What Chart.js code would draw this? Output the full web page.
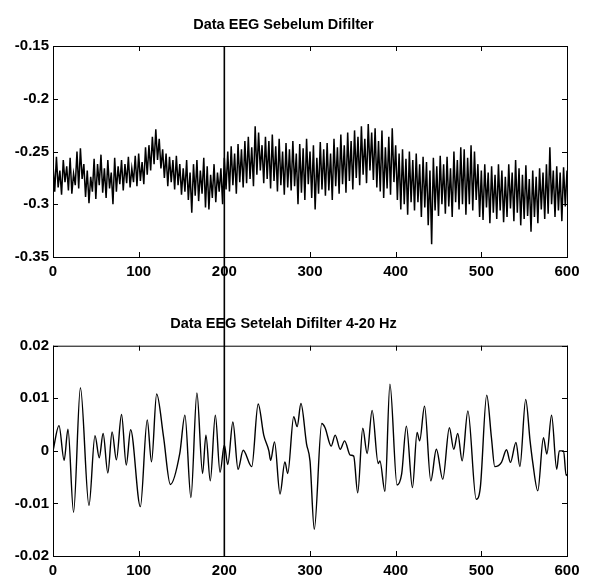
<!DOCTYPE html>
<html>
<head>
<meta charset="utf-8">
<script src="https://cdn.jsdelivr.net/npm/chart.js@4"></script>
<style>
  html, body { margin: 0; padding: 0; background: #fff; }
  #wrap { position: relative; width: 592px; height: 579px; }
  canvas { display: block; }
</style>
</head>
<body>
<div id="wrap">
  <canvas id="rawChart" width="592" height="290"></canvas>
  <canvas id="filteredChart" width="592" height="289"></canvas>
</div>
<script>
// titles
const rawTitle = 'Data EEG Sebelum Difilter';
const filteredTitle = 'Data EEG Setelah Difilter 4-20 Hz';

// tick labels
const xTicks = [0, 100, 200, 300, 400, 500, 600];
const rawYTicks = [-0.35, -0.3, -0.25, -0.2, -0.15];
const filteredYTicks = [-0.02, -0.01, 0, 0.01, 0.02];

// marker drawn across both plots
const markerSample = 200;

// raw EEG, one value every 2 samples (0..600)
const rawStep = 2;
const rawValues = [
  -0.262,-0.288,-0.255,-0.284,-0.268,-0.291,-0.258,-0.279,-0.264,-0.287,
  -0.256,-0.290,-0.271,-0.282,-0.250,-0.285,-0.247,-0.276,-0.262,-0.293,
  -0.268,-0.299,-0.274,-0.288,-0.257,-0.295,-0.262,-0.282,-0.253,-0.289,
  -0.266,-0.294,-0.258,-0.285,-0.270,-0.300,-0.256,-0.288,-0.264,-0.281,
  -0.258,-0.287,-0.262,-0.280,-0.255,-0.284,-0.266,-0.279,-0.254,-0.283,
  -0.252,-0.278,-0.260,-0.281,-0.246,-0.272,-0.244,-0.268,-0.236,-0.262,
  -0.229,-0.258,-0.238,-0.266,-0.248,-0.275,-0.252,-0.283,-0.255,-0.279,
  -0.258,-0.286,-0.254,-0.282,-0.262,-0.291,-0.266,-0.288,-0.258,-0.296,
  -0.270,-0.308,-0.262,-0.292,-0.258,-0.297,-0.268,-0.290,-0.256,-0.303,
  -0.264,-0.305,-0.272,-0.294,-0.262,-0.298,-0.270,-0.288,-0.266,-0.300,
  -0.256,-0.286,-0.250,-0.288,-0.245,-0.282,-0.252,-0.290,-0.243,-0.279,
  -0.248,-0.284,-0.240,-0.280,-0.236,-0.276,-0.246,-0.283,-0.226,-0.272,
  -0.232,-0.268,-0.244,-0.280,-0.236,-0.276,-0.240,-0.285,-0.234,-0.278,
  -0.245,-0.288,-0.238,-0.282,-0.250,-0.291,-0.242,-0.284,-0.248,-0.287,
  -0.240,-0.283,-0.252,-0.300,-0.243,-0.289,-0.247,-0.296,-0.238,-0.281,
  -0.250,-0.294,-0.244,-0.305,-0.256,-0.290,-0.241,-0.286,-0.248,-0.292,
  -0.242,-0.287,-0.252,-0.296,-0.238,-0.283,-0.246,-0.290,-0.234,-0.281,
  -0.244,-0.289,-0.232,-0.278,-0.240,-0.286,-0.230,-0.275,-0.236,-0.282,
  -0.226,-0.272,-0.238,-0.280,-0.224,-0.268,-0.232,-0.277,-0.228,-0.284,
  -0.240,-0.288,-0.230,-0.294,-0.246,-0.285,-0.236,-0.291,-0.228,-0.279,
  -0.244,-0.296,-0.252,-0.305,-0.248,-0.300,-0.257,-0.310,-0.250,-0.298,
  -0.258,-0.306,-0.252,-0.298,-0.262,-0.312,-0.255,-0.303,-0.260,-0.320,
  -0.268,-0.338,-0.256,-0.306,-0.264,-0.311,-0.254,-0.300,-0.262,-0.309,
  -0.255,-0.302,-0.266,-0.312,-0.250,-0.298,-0.258,-0.305,-0.246,-0.300,
  -0.248,-0.310,-0.256,-0.300,-0.244,-0.306,-0.250,-0.296,-0.262,-0.312,
  -0.268,-0.315,-0.262,-0.303,-0.270,-0.318,-0.264,-0.308,-0.272,-0.314,
  -0.262,-0.306,-0.268,-0.317,-0.274,-0.312,-0.262,-0.304,-0.270,-0.316,
  -0.258,-0.308,-0.266,-0.320,-0.272,-0.314,-0.263,-0.311,-0.276,-0.326,
  -0.268,-0.312,-0.274,-0.318,-0.266,-0.305,-0.270,-0.314,-0.262,-0.309,
  -0.246,-0.300,-0.268,-0.312,-0.264,-0.306,-0.270,-0.316,-0.265,-0.302,
  -0.268
];

// filtered EEG (4-20 Hz), turning points
const filteredSamples = [
  0, 7, 13, 17.5, 24, 32, 42, 49, 54, 58.5, 64, 69, 74, 80, 85.5, 90.6,
  102, 110, 115, 121, 129, 137, 148, 154, 161, 168, 174.6, 178.5, 183.6, 189.5, 195,
  200, 204, 210, 216, 222, 232, 239.5, 246, 252, 254, 258.6, 265, 270.7, 274,
  281, 285, 289.4, 296, 300, 305, 313.7, 317.6, 324.7, 329.4, 335.3, 340.4, 347, 351,
  355.7, 361.6, 366.7, 372.5, 379.6, 381.6, 387.5, 393.3, 401.6, 407, 412.5, 419.6,
  425, 428, 433.7, 441, 447.5, 455, 462.7, 467.8, 472.5, 477.6, 484.3, 494, 498.8,
  506.3, 511.8, 515.7, 523.5, 529.4, 534, 540.4, 545, 551.8, 556.9, 560, 565.9,
  572.5, 576.5, 582, 588, 591, 596, 599, 600
];
const filteredValues = [
  0.0, 0.0048, -0.0018, 0.0041, -0.0117, 0.012, -0.0104, 0.0029, -0.0013, 0.0033, -0.0042, 0.0036, -0.0017, 0.0069, -0.0027, 0.004,
  -0.0106, 0.0059, -0.0021, 0.0108, 0.0027, -0.0064, -0.0005, 0.0068, -0.0089, 0.011, -0.0043, 0.003, -0.0057, 0.0068, -0.0041,
  0.0011, -0.0026, 0.0055, -0.0035, 0.0001, -0.003, 0.0089, 0.003, 0.0, -0.0018, 0.0017, -0.0082, -0.0021, -0.0043,
  0.0065, 0.0046, 0.009, 0.0013, -0.0019, -0.0149, 0.0052, 0.0044, 0.0009, 0.003, 0.0003, 0.0019, -0.0008, -0.001,
  -0.008, 0.0043, -0.0005, 0.0077, -0.0024, -0.0019, -0.0077, 0.0127, -0.0065, -0.0044, 0.0047, -0.007,
  0.0035, 0.0019, 0.0085, -0.0057, 0.0003, -0.0054, 0.0044, 0.0003, 0.0033, -0.0019, 0.0076, -0.0092, -0.007,
  0.0106, 0.0025, -0.003, -0.0022, 0.0002, -0.0022, 0.0016, -0.003, 0.0098, 0.0019, -0.0022, -0.0076,
  0.0025, -0.0006, 0.0068, -0.0035, 0.0, 0.0, -0.0047, -0.0044
];

const fontFamily = "'Liberation Sans', Arial, sans-serif";
const fmt = v => String(+Number(v).toFixed(4));

// MATLAB-like box with inward ticks, plus the vertical marker
const framePlugin = {
    id: 'frame',
    afterDraw(chart, args, opts) {
        const { ctx, chartArea: a, scales: { x, y } } = chart;
        const len = 5;
        ctx.save();
        ctx.strokeStyle = '#000';
        ctx.lineWidth = 1;
        ctx.strokeRect(a.left + 0.5, a.top + 0.5, a.right - a.left, a.bottom - a.top);
        ctx.beginPath();
        x.ticks.forEach(t => {
            const px = Math.round(x.getPixelForValue(t.value)) + 0.5;
            ctx.moveTo(px, a.bottom); ctx.lineTo(px, a.bottom - len);
            ctx.moveTo(px, a.top); ctx.lineTo(px, a.top + len);
        });
        y.ticks.forEach(t => {
            const py = Math.round(y.getPixelForValue(t.value)) + 0.5;
            ctx.moveTo(a.left, py); ctx.lineTo(a.left + len, py);
            ctx.moveTo(a.right, py); ctx.lineTo(a.right - len, py);
        });
        ctx.stroke();

        const mx = x.getPixelForValue(markerSample);
        ctx.lineWidth = 1.6;
        ctx.beginPath();
        ctx.moveTo(mx, opts.up ? 0 : a.top);
        ctx.lineTo(mx, opts.down ? chart.height : a.bottom);
        ctx.stroke();
        ctx.restore();
    }
};

function makeOptions(title, yTicks, titlePad, xHeight) {
    return {
        responsive: false,
        animation: false,
        layout: { padding: { left: 0, right: 25, top: 0, bottom: 0 } },
        plugins: {
            legend: { display: false },
            tooltip: { enabled: false },
            title: {
                display: true,
                text: title,
                color: '#000',
                font: { family: fontFamily, size: 14.5, weight: 'bold', lineHeight: 1.2 },
                padding: titlePad
            }
        },
        scales: {
            x: {
                type: 'linear',
                min: xTicks[0],
                max: xTicks[xTicks.length - 1],
                afterBuildTicks: s => { s.ticks = xTicks.map(v => ({ value: v })); },
                afterFit: s => { s.height = xHeight; },
                grid: { display: false, drawTicks: false },
                border: { display: false },
                ticks: {
                    color: '#000',
                    padding: 6,
                    maxRotation: 0,
                    font: { family: fontFamily, size: 15, weight: 'bold' },
                    callback: v => fmt(v)
                }
            },
            y: {
                min: yTicks[0],
                max: yTicks[yTicks.length - 1],
                afterBuildTicks: s => { s.ticks = yTicks.map(v => ({ value: v })); },
                afterFit: s => { s.width = 53; },
                grid: { display: false, drawTicks: false },
                border: { display: false },
                ticks: {
                    color: '#000',
                    padding: 4,
                    font: { family: fontFamily, size: 15, weight: 'bold' },
                    callback: v => fmt(v)
                }
            }
        }
    };
}

const rawOpts = makeOptions(rawTitle, rawYTicks, { top: 16.5, bottom: 12.1 }, 33);
rawOpts.plugins.frame = { down: true };
new Chart(document.getElementById('rawChart'), {
    type: 'line',
    data: {
        datasets: [{
            data: rawValues.map((v, i) => ({ x: i * rawStep, y: v })),
            borderColor: '#000',
            borderWidth: 1.5,
            pointRadius: 0,
            tension: 0
        }]
    },
    options: rawOpts,
    plugins: [framePlugin]
});

const filtOpts = makeOptions(filteredTitle, filteredYTicks, { top: 25.5, bottom: 12.8 }, 23);
filtOpts.plugins.frame = { up: true };
new Chart(document.getElementById('filteredChart'), {
    type: 'line',
    data: {
        datasets: [{
            data: filteredSamples.map((s, i) => ({ x: s, y: filteredValues[i] })),
            borderColor: '#000',
            borderWidth: 1.4,
            pointRadius: 0,
            cubicInterpolationMode: 'monotone'
        }]
    },
    options: filtOpts,
    plugins: [framePlugin]
});
</script>
</body>
</html>
